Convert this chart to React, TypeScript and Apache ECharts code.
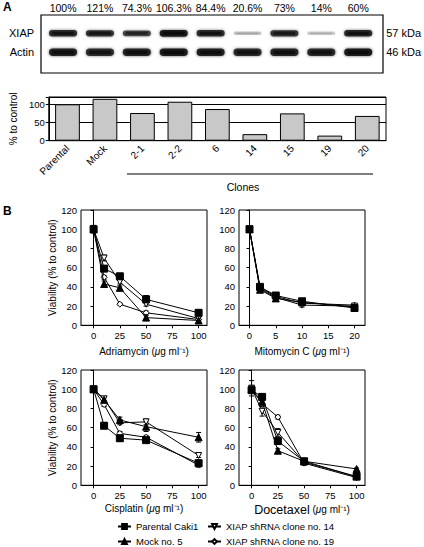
import React, { useEffect, useRef } from 'react';
import * as echarts from 'echarts';

// ---------- Panel A: western blot ----------
const blotLanes = ['Parental', 'Mock', '2-1', '2-2', '6', '14', '15', '19', '20'];
const blotPercents = ['100%', '121%', '74.3%', '106.3%', '84.4%', '20.6%', '73%', '14%', '60%'];
const blotRows = ['XIAP', 'Actin'];
const blotSizes = ['57 kDa', '46 kDa'];
const xiapDensity = [0.86, 0.84, 0.74, 0.96, 0.86, 0.22, 0.82, 0.2, 0.88];
const actinDensity = [0.92, 0.86, 0.9, 0.95, 0.92, 0.88, 0.9, 0.88, 0.95];

// ---------- Panel A: bar chart ----------
const barCategories = ['Parental', 'Mock', '2-1', '2-2', '6', '14', '15', '19', '20'];
const barValues = [100, 115, 76, 107, 87, 18, 75, 14, 68];

// ---------- Panel B ----------
const seriesNames = ['Parental Caki1', 'Mock no. 5', 'XIAP shRNA clone no. 14', 'XIAP shRNA clone no. 19'];
const doseTicks100 = [0, 25, 50, 75, 100];
const doseTicks20 = [0, 5, 10, 15, 20];

const adriamycinDose = [0, 10, 25, 50, 100];
const adriamycinParental = [100, 59, 51, 27, 13];
const adriamycinMock = [100, 43, 39, 8, 5];
const adriamycinClone14 = [100, 70, 45, 22, 7];
const adriamycinClone19 = [100, 50, 22, 13, 6];
const adriamycinParentalErr = [4, 3, 3, 4, 3];
const adriamycinMockErr = [2, 3, 2, 2, 1];
const adriamycinClone14Err = [2, 3, 2, 2, 1];
const adriamycinClone19Err = [2, 2, 1, 2, 1];

const mitomycinDose = [0, 2, 5, 10, 20];
const mitomycinParental = [100, 40, 31, 25, 18];
const mitomycinMock = [100, 37, 28, 24, 19];
const mitomycinClone14 = [100, 38, 29, 21, 20];
const mitomycinClone19 = [100, 39, 30, 23, 21];
const mitomycinParentalErr = [3, 2, 2, 2, 2];
const mitomycinMockErr = [2, 2, 3, 2, 1];
const mitomycinClone14Err = [2, 2, 2, 2, 1];
const mitomycinClone19Err = [2, 2, 2, 1, 1];

const cisplatinDose = [0, 10, 25, 50, 100];
const cisplatinParental = [100, 62, 49, 47, 23];
const cisplatinMock = [100, 89, 68, 61, 50];
const cisplatinClone14 = [100, 90, 65, 66, 31];
const cisplatinClone19 = [100, 84, 54, 50, 21];
const cisplatinParentalErr = [2, 3, 3, 2, 3];
const cisplatinMockErr = [2, 3, 3, 5, 5];
const cisplatinClone14Err = [2, 2, 2, 3, 2];
const cisplatinClone19Err = [1, 2, 2, 2, 2];

const docetaxelDose = [0, 10, 25, 50, 100];
const docetaxelParental = [99, 92, 46, 25, 9];
const docetaxelMock = [100, 87, 36, 25, 17];
const docetaxelClone14 = [101, 77, 55, 24, 9];
const docetaxelClone19 = [100, 85, 71, 23, 8];
const docetaxelParentalErr = [3, 3, 3, 2, 2];
const docetaxelMockErr = [3, 3, 2, 2, 1];
const docetaxelClone14Err = [8, 5, 4, 2, 1];
const docetaxelClone19Err = [4, 3, 2, 2, 1];

const FONT = '"Liberation Sans", Arial, Helvetica, sans-serif';
const symbols = ['rect', 'triangle', 'path://M0,0 L10,0 L5,9 Z', 'diamond'];
const symbolFills = ['#000', '#000', '#fff', '#fff'];
const symbolSizes = [7, 7, 6, 6];

function buildPanel(axisIdx: number, dose: number[], vals: number[][], errs: number[][]) {
  const out: any[] = [];
  vals.forEach((v, s) => {
    out.push({
      type: 'custom',
      name: 'err' + axisIdx + '_' + s,
      xAxisIndex: axisIdx,
      yAxisIndex: axisIdx + 1,
      silent: true,
      z: 2,
      data: dose.map((d, i) => [d, v[i] - errs[s][i], v[i] + errs[s][i]]),
      encode: { x: 0, y: [1, 2] },
      renderItem: (params: any, api: any) => {
        const x = api.value(0);
        const p1 = api.coord([x, api.value(2)]);
        const p2 = api.coord([x, api.value(1)]);
        const cap = 2.5;
        const st = { stroke: '#000', lineWidth: 1 };
        return {
          type: 'group',
          children: [
            { type: 'line', shape: { x1: p1[0], y1: p1[1], x2: p2[0], y2: p2[1] }, style: st },
            { type: 'line', shape: { x1: p1[0] - cap, y1: p1[1], x2: p1[0] + cap, y2: p1[1] }, style: st },
            { type: 'line', shape: { x1: p2[0] - cap, y1: p2[1], x2: p2[0] + cap, y2: p2[1] }, style: st },
          ],
        };
      },
    });
    out.push({
      type: 'line',
      name: seriesNames[s],
      xAxisIndex: axisIdx,
      yAxisIndex: axisIdx + 1,
      z: 3 + (3 - s),
      data: dose.map((d, i) => [d, v[i]]),
      symbol: symbols[s],
      symbolSize: symbolSizes[s],
      showSymbol: true,
      lineStyle: { color: '#000', width: 1 },
      itemStyle: { color: symbolFills[s], borderColor: '#000', borderWidth: 1 },
      emphasis: { disabled: true },
    });
  });
  return out;
}

function panelXAxis(grid: number, min: number, max: number, ticks: number[], name: string, gap: number) {
  return {
    type: 'value',
    gridIndex: grid,
    min,
    max,
    axisLine: { show: true, lineStyle: { color: '#000', width: 1 } },
    axisTick: { show: true, customValues: ticks, length: 3, lineStyle: { color: '#000' } },
    axisLabel: { customValues: ticks, fontSize: 9.5, color: '#000', margin: 5, fontFamily: FONT },
    splitLine: { show: false },
    name,
    nameLocation: 'middle',
    nameGap: gap,
    nameTextStyle: {
      fontSize: 10,
      color: '#000',
      fontFamily: FONT,
      rich: {
        it: { fontStyle: 'italic', fontSize: 10, fontFamily: FONT, color: '#000' },
        big: { fontSize: 12.5, fontFamily: FONT, color: '#000' },
      },
    },
  };
}

function panelYAxis(grid: number, withName: boolean) {
  return {
    type: 'value',
    gridIndex: grid,
    min: 0,
    max: 120,
    interval: 20,
    axisLine: { show: true, lineStyle: { color: '#000', width: 1 } },
    axisTick: { show: true, length: 3, lineStyle: { color: '#000' } },
    axisLabel: { fontSize: 9.5, color: '#000', margin: 4, fontFamily: FONT },
    splitLine: { show: false },
    name: withName ? 'Viability (% to control)' : '',
    nameLocation: 'middle',
    nameGap: 24,
    nameTextStyle: { fontSize: 10, color: '#000', fontFamily: FONT },
  };
}

function legendBlock(names: string[], left: number) {
  return {
    data: names,
    orient: 'vertical',
    left,
    top: 521,
    height: 40,
    padding: 0,
    itemWidth: 13,
    itemHeight: 6,
    itemGap: 4,
    selectedMode: false,
    textStyle: { fontSize: 9.5, color: '#000', fontFamily: FONT, lineHeight: 11 },
  };
}

export default function App() {
  const ref = useRef<HTMLDivElement>(null);
  useEffect(() => {
    if (!ref.current) return;
    const chart = echarts.init(ref.current, null, { renderer: 'svg' });

    const blotData: any[] = [];
    blotLanes.forEach((_, i) => {
      blotData.push([i, 0, xiapDensity[i]]);
      blotData.push([i, 1, actinDensity[i]]);
    });

    const panelGrid = (left: number, top: number) => ({
      left,
      top,
      width: 126,
      height: 115.3,
      show: true,
      borderColor: '#000',
      borderWidth: 1,
      backgroundColor: 'transparent',
    });

    const option: any = {
      animation: false,
      backgroundColor: '#fff',
      textStyle: { fontFamily: FONT, color: '#000' },
      grid: [
        { left: 44.6, top: 23.8, width: 335.8, height: 38 },
        { left: 40, top: 97, width: 346, height: 43.7, show: true, borderColor: '#000', borderWidth: 1 },
        panelGrid(81, 210),
        panelGrid(239, 210),
        panelGrid(81, 370),
        panelGrid(239, 370),
      ],
      xAxis: [
        {
          type: 'category',
          gridIndex: 0,
          position: 'top',
          data: blotPercents,
          axisLine: { show: false },
          axisTick: { show: false },
          axisLabel: { interval: 0, fontSize: 10.5, color: '#000', margin: 10, fontFamily: FONT },
        },
        {
          type: 'category',
          gridIndex: 1,
          data: barCategories,
          axisLine: { show: true, lineStyle: { color: '#000' } },
          axisTick: { show: false },
          axisLabel: { rotate: 45, interval: 0, fontSize: 10, color: '#000', margin: 6, fontFamily: FONT },
        },
        panelXAxis(2, -12, 108, doseTicks100, 'Adriamycin ({it|μ}g ml⁻¹)', 21),
        panelXAxis(3, -2, 22, doseTicks20, 'Mitomycin C ({it|μ}g ml⁻¹)', 21),
        panelXAxis(4, -12, 108, doseTicks100, 'Cisplatin ({it|μ}g ml⁻¹)', 18),
        panelXAxis(5, -12, 108, doseTicks100, '{big|Docetaxel} ({it|μ}g ml⁻¹)', 18),
      ],
      yAxis: [
        {
          type: 'category',
          gridIndex: 0,
          inverse: true,
          data: blotRows,
          axisLine: { show: false },
          axisTick: { show: false },
          axisLabel: { fontSize: 11, color: '#000', margin: 10.5, fontFamily: FONT },
        },
        {
          type: 'category',
          gridIndex: 0,
          inverse: true,
          position: 'right',
          data: blotSizes,
          axisLine: { show: false },
          axisTick: { show: false },
          axisLabel: { fontSize: 11, color: '#000', margin: 9.5, fontFamily: FONT },
        },
        {
          type: 'value',
          gridIndex: 1,
          min: 0,
          max: 120,
          interval: 50,
          axisLine: { show: true, lineStyle: { color: '#000' } },
          axisTick: { show: true, length: 3, lineStyle: { color: '#000' } },
          axisLabel: {
            fontSize: 9.5,
            color: '#000',
            margin: 4,
            fontFamily: FONT,
            formatter: (v: number) => (v % 50 === 0 ? String(v) : ''),
          },
          splitLine: { show: true, lineStyle: { color: '#000', width: 1 } },
          name: '% to control',
          nameLocation: 'middle',
          nameGap: 26,
          nameTextStyle: { fontSize: 10, color: '#000', fontFamily: FONT },
        },
        panelYAxis(2, true),
        panelYAxis(3, false),
        panelYAxis(4, true),
        panelYAxis(5, false),
      ],
      legend: [
        legendBlock([seriesNames[0], seriesNames[1]], 117),
        legendBlock([seriesNames[2], seriesNames[3]], 207),
      ],
      graphic: [
        { type: 'text', left: 3, top: 1, style: { text: 'A', fontSize: 12, fontWeight: 'bold', fill: '#000', fontFamily: FONT } },
        { type: 'text', left: 3, top: 205, style: { text: 'B', fontSize: 12, fontWeight: 'bold', fill: '#000', fontFamily: FONT } },
        {
          type: 'rect',
          shape: { x: 41, y: 15, width: 342, height: 58 },
          style: { fill: 'none', stroke: '#000', lineWidth: 1.2 },
        },
        {
          type: 'line',
          shape: { x1: 127, y1: 174, x2: 373, y2: 174 },
          style: { stroke: '#000', lineWidth: 1.2 },
        },
        {
          type: 'text',
          x: 243,
          y: 187,
          style: { text: 'Clones', fontSize: 10.5, fill: '#000', fontFamily: FONT, align: 'center', verticalAlign: 'middle' },
        },
      ],
      series: [
        {
          type: 'custom',
          name: 'blot',
          xAxisIndex: 0,
          yAxisIndex: 0,
          silent: true,
          data: blotData,
          renderItem: (params: any, api: any) => {
            const row = api.value(1);
            const d = api.value(2);
            const c = api.coord([api.value(0), row]);
            const w = api.size([1, 0])[0] * 0.76;
            const h = row === 0 ? 2.5 + 4.5 * d : 7.5;
            return {
              type: 'group',
              children: [
                {
                  type: 'rect',
                  shape: { x: c[0] - w / 2, y: c[1] - h / 2, width: w, height: h, r: h / 2 },
                  style: {
                    fill: `rgba(25,25,25,${d})`,
                    shadowBlur: 3,
                    shadowColor: `rgba(0,0,0,${d * 0.7})`,
                  },
                },
                {
                  type: 'rect',
                  shape: { x: c[0] - w / 2 + 3, y: c[1] - h / 4, width: w - 6, height: h / 2, r: h / 4 },
                  style: { fill: `rgba(0,0,0,${d * 0.6})` },
                },
              ],
            };
          },
        },
        {
          type: 'bar',
          name: 'XIAP %',
          xAxisIndex: 1,
          yAxisIndex: 2,
          data: barValues,
          barWidth: '66%',
          z: 3,
          itemStyle: { color: '#c8c8c8', borderColor: '#000', borderWidth: 1 },
          emphasis: { disabled: true },
        },
        ...buildPanel(2, adriamycinDose,
          [adriamycinParental, adriamycinMock, adriamycinClone14, adriamycinClone19],
          [adriamycinParentalErr, adriamycinMockErr, adriamycinClone14Err, adriamycinClone19Err]),
        ...buildPanel(3, mitomycinDose,
          [mitomycinParental, mitomycinMock, mitomycinClone14, mitomycinClone19],
          [mitomycinParentalErr, mitomycinMockErr, mitomycinClone14Err, mitomycinClone19Err]),
        ...buildPanel(4, cisplatinDose,
          [cisplatinParental, cisplatinMock, cisplatinClone14, cisplatinClone19],
          [cisplatinParentalErr, cisplatinMockErr, cisplatinClone14Err, cisplatinClone19Err]),
        ...buildPanel(5, docetaxelDose,
          [docetaxelParental, docetaxelMock, docetaxelClone14, docetaxelClone19],
          [docetaxelParentalErr, docetaxelMockErr, docetaxelClone14Err, docetaxelClone19Err]),
      ],
    };
    chart.setOption(option);
    return () => chart.dispose();
  }, []);
  return (
    <div
      ref={ref}
      style={{ position: 'absolute', left: 0, top: 0, width: 424, height: 547, background: '#fff' }}
    />
  );
}
